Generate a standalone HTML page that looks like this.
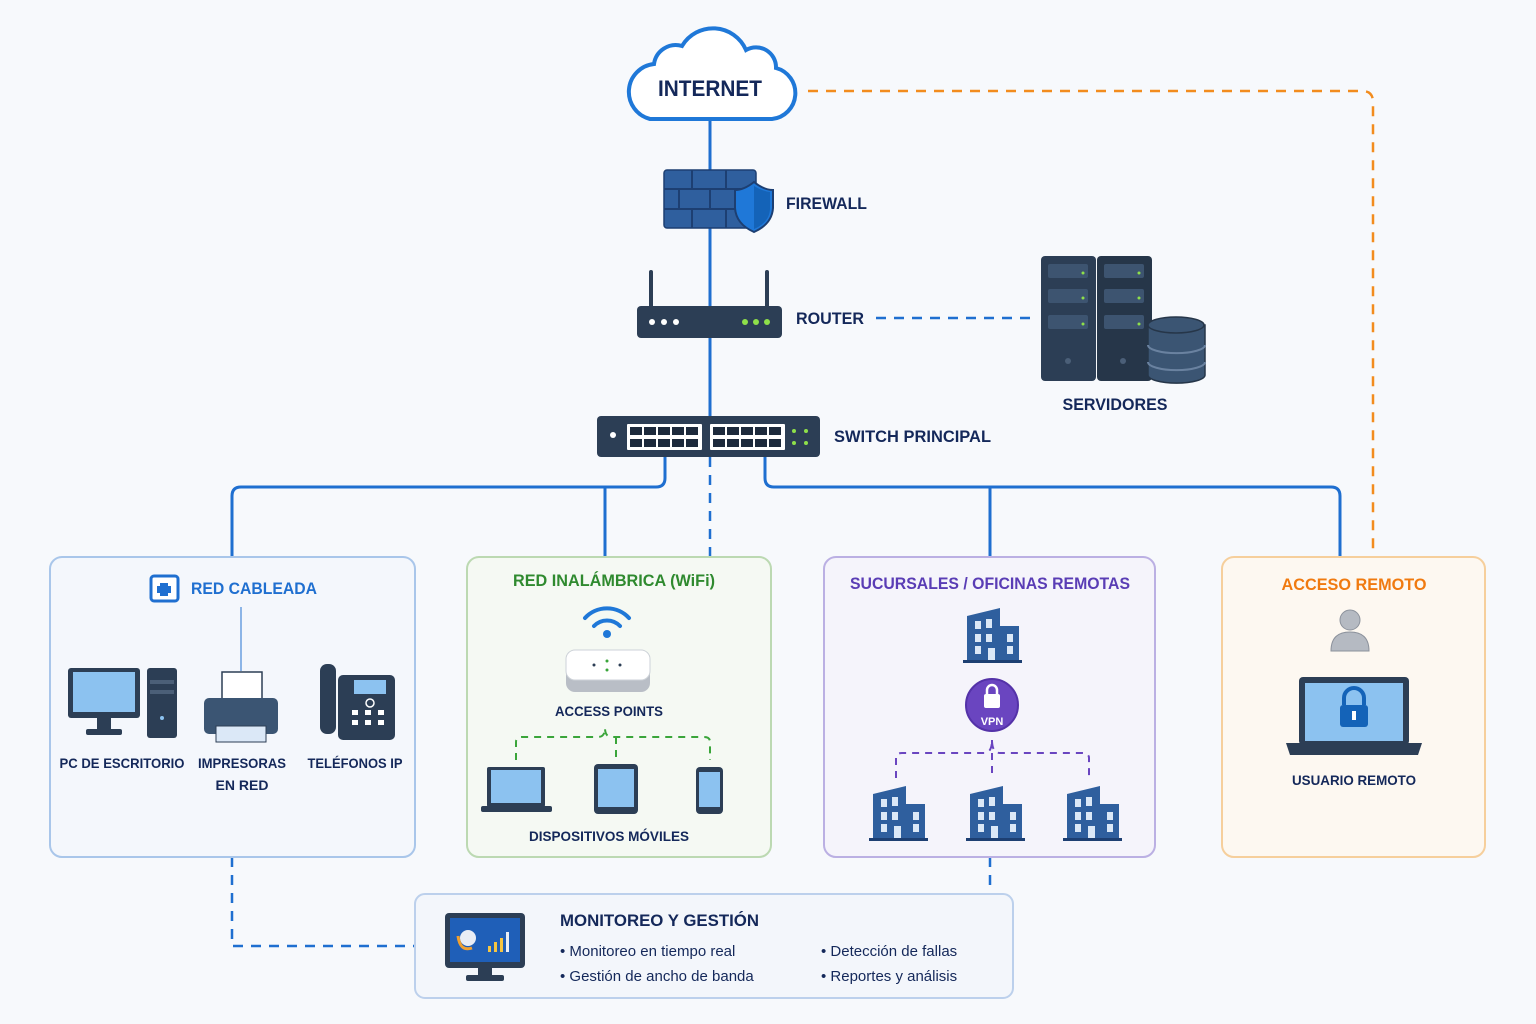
<!DOCTYPE html>
<html><head><meta charset="utf-8"><style>
html,body{margin:0;padding:0;background:#f7f9fc;}
svg{display:block;font-family:"Liberation Sans",sans-serif;}
.t{font-weight:bold;fill:#14285a;}
</style></head><body>
<svg width="1536" height="1024" viewBox="0 0 1536 1024" xmlns="http://www.w3.org/2000/svg">
<rect width="1536" height="1024" fill="#f7f9fc"/>

<g fill="none" stroke="#1f6fd0" stroke-width="3">
<line x1="710" y1="120" x2="710" y2="416"/>
<path d="M665,457 V478 Q665,487 656,487 H241 Q232,487 232,496 V557"/>
<path d="M605,487 V557"/>
<path d="M765,457 V478 Q765,487 774,487 H1331 Q1340,487 1340,496 V557"/>
<path d="M990,487 V557"/>
</g>
<g fill="none" stroke="#1f6fd0" stroke-width="2.5" stroke-dasharray="10,8">
<line x1="710" y1="457" x2="710" y2="557"/>
<line x1="876" y1="318" x2="1035" y2="318"/>
<path d="M232,857 V946 H415"/>
<line x1="990" y1="857" x2="990" y2="894"/>
</g>
<path d="M808,91 H1362 Q1373,91 1373,102 V557" fill="none" stroke="#f28c1e" stroke-width="2.5" stroke-dasharray="10,8"/>

<path d="M650,119 H772 A26,26 0 0 0 776,68 A20,20 0 0 0 746,50 A36,36 0 0 0 682,46 A22,22 0 0 0 654,64 A28,28 0 0 0 650,119 Z" fill="#fff" stroke="#1f78d8" stroke-width="4"/>
<text x="710" y="96" text-anchor="middle" class="t" font-size="22" textLength="104" lengthAdjust="spacingAndGlyphs">INTERNET</text>

<rect x="664" y="170" width="92" height="58" rx="3" fill="#2f5f9e" stroke="#1d3f72" stroke-width="1.5"/>
<g stroke="#1d3f72" stroke-width="2">
<line x1="664" y1="189" x2="756" y2="189"/><line x1="664" y1="209" x2="756" y2="209"/>
<line x1="692" y1="170" x2="692" y2="189"/><line x1="726" y1="170" x2="726" y2="189"/>
<line x1="679" y1="189" x2="679" y2="209"/><line x1="710" y1="189" x2="710" y2="209"/><line x1="740" y1="189" x2="740" y2="209"/>
<line x1="692" y1="209" x2="692" y2="228"/><line x1="726" y1="209" x2="726" y2="228"/>
</g>
<path d="M754,182 Q764,190 773,190 V208 Q772,224 754,232 Q736,224 735,208 V190 Q744,190 754,182 Z" fill="#1f78d8" stroke="#1d3f72" stroke-width="2"/>
<path d="M754,186 V229 Q770,222 770,208 V192 Q762,191 754,186Z" fill="#1463b8"/>
<text x="786" y="209" class="t" font-size="17" textLength="81" lengthAdjust="spacingAndGlyphs">FIREWALL</text>

<rect x="649" y="270" width="4" height="40" rx="2" fill="#2c3e55"/>
<rect x="765" y="270" width="4" height="40" rx="2" fill="#2c3e55"/>
<rect x="637" y="306" width="145" height="32" rx="4" fill="#2c3e55"/>
<g fill="#fff"><circle cx="652" cy="322" r="3"/><circle cx="664" cy="322" r="3"/><circle cx="676" cy="322" r="3"/></g>
<g fill="#8ee04a"><circle cx="745" cy="322" r="3"/><circle cx="756" cy="322" r="3"/><circle cx="767" cy="322" r="3"/></g>
<text x="796" y="324" class="t" font-size="17" textLength="68" lengthAdjust="spacingAndGlyphs">ROUTER</text>

<rect x="1041" y="256" width="55" height="125" rx="4" fill="#2c3e55"/>
<rect x="1097" y="256" width="55" height="125" rx="4" fill="#263649"/>
<g fill="#3d5470">
<rect x="1048" y="264" width="40" height="14" rx="2"/><rect x="1048" y="289" width="40" height="14" rx="2"/><rect x="1048" y="315" width="40" height="14" rx="2"/>
<rect x="1104" y="264" width="40" height="14" rx="2"/><rect x="1104" y="289" width="40" height="14" rx="2"/><rect x="1104" y="315" width="40" height="14" rx="2"/>
</g>
<g fill="#8ee04a"><circle cx="1083" cy="273" r="1.5"/><circle cx="1083" cy="298" r="1.5"/><circle cx="1083" cy="324" r="1.5"/><circle cx="1139" cy="273" r="1.5"/><circle cx="1139" cy="298" r="1.5"/><circle cx="1139" cy="324" r="1.5"/></g>
<circle cx="1068" cy="361" r="3" fill="#4b5f78"/><circle cx="1123" cy="361" r="3" fill="#4b5f78"/>
<path d="M1148,325 V375 A28,8 0 0 0 1205,375 V325 Z" fill="#3b5573" stroke="#263649" stroke-width="1.5"/>
<ellipse cx="1176" cy="325" rx="28" ry="8" fill="#3b5573" stroke="#263649" stroke-width="1.5"/>
<path d="M1148,345 A28,8 0 0 0 1205,345 M1148,362 A28,8 0 0 0 1205,362" fill="none" stroke="#6a82a0" stroke-width="2"/>
<text x="1115" y="410" text-anchor="middle" class="t" font-size="17" textLength="105" lengthAdjust="spacingAndGlyphs">SERVIDORES</text>

<rect x="597" y="416" width="223" height="41" rx="4" fill="#2c3e55"/>
<rect x="627" y="424" width="75" height="26" fill="#fff" rx="1"/>
<rect x="710" y="424" width="75" height="26" fill="#fff" rx="1"/>
<g fill="#1d2a3c">
<rect x="630" y="427" width="12" height="8"/><rect x="644" y="427" width="12" height="8"/><rect x="658" y="427" width="12" height="8"/><rect x="672" y="427" width="12" height="8"/><rect x="686" y="427" width="12" height="8"/>
<rect x="630" y="439" width="12" height="8"/><rect x="644" y="439" width="12" height="8"/><rect x="658" y="439" width="12" height="8"/><rect x="672" y="439" width="12" height="8"/><rect x="686" y="439" width="12" height="8"/>
<rect x="713" y="427" width="12" height="8"/><rect x="727" y="427" width="12" height="8"/><rect x="741" y="427" width="12" height="8"/><rect x="755" y="427" width="12" height="8"/><rect x="769" y="427" width="12" height="8"/>
<rect x="713" y="439" width="12" height="8"/><rect x="727" y="439" width="12" height="8"/><rect x="741" y="439" width="12" height="8"/><rect x="755" y="439" width="12" height="8"/><rect x="769" y="439" width="12" height="8"/>
</g>
<g fill="#8ee04a"><circle cx="794" cy="431" r="2"/><circle cx="806" cy="431" r="2"/><circle cx="794" cy="443" r="2"/><circle cx="806" cy="443" r="2"/></g>
<circle cx="613" cy="435" r="3" fill="#fff"/>
<text x="834" y="442" class="t" font-size="17" textLength="157" lengthAdjust="spacingAndGlyphs">SWITCH PRINCIPAL</text>

<rect x="50" y="557" width="365" height="300" rx="12" fill="#f4f7fc" stroke="#a9c6ea" stroke-width="2"/>
<rect x="467" y="557" width="304" height="300" rx="12" fill="#f5f9f3" stroke="#bcd9b2" stroke-width="2"/>
<rect x="824" y="557" width="331" height="300" rx="12" fill="#f5f4fb" stroke="#bbb0e3" stroke-width="2"/>
<rect x="1222" y="557" width="263" height="300" rx="12" fill="#fdf8f1" stroke="#f6cf9c" stroke-width="2"/>
<rect x="415" y="894" width="598" height="104" rx="10" fill="#f3f6fb" stroke="#bcd0ec" stroke-width="2"/>

<rect x="151" y="576" width="27" height="25" rx="3" fill="#fff" stroke="#1f6fd0" stroke-width="3"/>
<path d="M160,583 h8 v3 h3 v7 h-3 v3 h-8 v-3 h-3 v-7 h3 z" fill="#1f6fd0"/>
<text x="191" y="594" font-size="17" font-weight="bold" fill="#1f6fd0" textLength="126" lengthAdjust="spacingAndGlyphs">RED CABLEADA</text>
<line x1="241" y1="607" x2="241" y2="671" stroke="#6a9fe0" stroke-width="1.5"/>
<rect x="68" y="668" width="72" height="50" rx="3" fill="#2c3e55"/>
<rect x="73" y="672" width="62" height="40" fill="#8cc2f0"/>
<rect x="97" y="718" width="14" height="12" fill="#2c3e55"/><rect x="86" y="729" width="36" height="6" rx="2" fill="#2c3e55"/>
<rect x="147" y="668" width="30" height="70" rx="3" fill="#2c3e55"/>
<rect x="150" y="680" width="24" height="4" fill="#4b5f78"/><rect x="150" y="690" width="24" height="4" fill="#4b5f78"/>
<circle cx="162" cy="718" r="2" fill="#8cc2f0"/>
<rect x="222" y="672" width="40" height="32" fill="#fff" stroke="#2c3e55" stroke-width="1.5"/>
<rect x="204" y="698" width="74" height="36" rx="5" fill="#3b5573"/>
<rect x="216" y="726" width="50" height="16" fill="#dbe8f7" stroke="#2c3e55"/>
<text x="122" y="768" text-anchor="middle" class="t" font-size="14" textLength="125" lengthAdjust="spacingAndGlyphs">PC DE ESCRITORIO</text>
<text x="242" y="768" text-anchor="middle" class="t" font-size="14" textLength="88" lengthAdjust="spacingAndGlyphs">IMPRESORAS</text>
<text x="242" y="790" text-anchor="middle" class="t" font-size="14">EN RED</text>
<rect x="320" y="664" width="16" height="70" rx="7" fill="#2c3e55"/>
<rect x="338" y="675" width="57" height="65" rx="5" fill="#2c3e55"/>
<rect x="354" y="680" width="32" height="14" fill="#8cc2f0"/>
<g fill="#fff"><rect x="352" y="710" width="6" height="5"/><rect x="365" y="710" width="6" height="5"/><rect x="378" y="710" width="6" height="5"/><rect x="352" y="720" width="6" height="5"/><rect x="365" y="720" width="6" height="5"/><rect x="378" y="720" width="6" height="5"/></g>
<circle cx="370" cy="703" r="4" fill="none" stroke="#fff" stroke-width="1.5"/>
<text x="355" y="768" text-anchor="middle" class="t" font-size="14" textLength="95" lengthAdjust="spacingAndGlyphs">TELÉFONOS IP</text>

<text x="614" y="586" text-anchor="middle" font-size="17" font-weight="bold" fill="#2f8a2f" textLength="202" lengthAdjust="spacingAndGlyphs">RED INALÁMBRICA (WiFi)</text>
<g fill="none" stroke="#1f78d8" stroke-width="4" stroke-linecap="round">
<path d="M585,618 A30,30 0 0 1 629,618"/><path d="M594,626 A18,18 0 0 1 620,626"/>
</g>
<circle cx="607" cy="634" r="4" fill="#1f78d8"/>
<rect x="566" y="650" width="84" height="42" rx="9" fill="#b9bec6"/>
<rect x="566" y="650" width="84" height="30" rx="9" fill="#fff" stroke="#cdd2d8"/>
<circle cx="594" cy="665" r="1.5" fill="#2c3e55"/><circle cx="620" cy="665" r="1.5" fill="#2c3e55"/><circle cx="607" cy="661" r="1.5" fill="#3aa53a"/><circle cx="607" cy="670" r="1.5" fill="#3aa53a"/>
<text x="609" y="716" text-anchor="middle" class="t" font-size="14" textLength="108" lengthAdjust="spacingAndGlyphs">ACCESS POINTS</text>
<path d="M516,760 V742 Q516,737 522,737 H598 Q605,737 605,728 Q605,737 612,737 H704 Q710,737 710,742 V760 M616,737 V760" fill="none" stroke="#3aa53a" stroke-width="2" stroke-dasharray="7,6"/>
<rect x="487" y="767" width="58" height="40" rx="2" fill="#2c3e55"/><rect x="491" y="770" width="50" height="33" fill="#8cc2f0"/>
<rect x="481" y="806" width="71" height="6" rx="2" fill="#2c3e55"/>
<rect x="594" y="764" width="44" height="50" rx="4" fill="#2c3e55"/><rect x="598" y="769" width="36" height="38" fill="#8cc2f0"/>
<rect x="696" y="767" width="27" height="47" rx="4" fill="#2c3e55"/><rect x="699" y="772" width="21" height="35" fill="#8cc2f0"/>
<text x="609" y="841" text-anchor="middle" class="t" font-size="14" textLength="160" lengthAdjust="spacingAndGlyphs">DISPOSITIVOS MÓVILES</text>

<text x="990" y="589" text-anchor="middle" font-size="17" font-weight="bold" fill="#5a3db5" textLength="280" lengthAdjust="spacingAndGlyphs">SUCURSALES / OFICINAS REMOTAS</text>
<g id="bld">
<path d="M967,616 L1000,608 V626 H1019 V661 H967 Z" fill="#2f5f9e"/>
<rect x="963" y="660" width="59" height="3" fill="#1d3f72"/>
<g fill="#dbe8f7"><rect x="975" y="621" width="6" height="8"/><rect x="986" y="619" width="6" height="9"/><rect x="975" y="634" width="6" height="8"/><rect x="986" y="634" width="6" height="8"/><rect x="975" y="646" width="6" height="8"/><rect x="1007" y="634" width="6" height="8"/><rect x="1007" y="646" width="6" height="8"/><rect x="988" y="648" width="7" height="12"/></g>
</g>
<circle cx="992" cy="705" r="26" fill="#6a45c0" stroke="#5432a8" stroke-width="2"/>
<rect x="984" y="694" width="16" height="14" rx="2" fill="#fff"/>
<path d="M987,694 V690 A5,5 0 0 1 997,690 V694" fill="none" stroke="#fff" stroke-width="2.5"/>
<text x="992" y="725" text-anchor="middle" font-size="11" font-weight="bold" fill="#fff">VPN</text>
<path d="M896,778 V758 Q896,753 902,753 H984 Q992,753 992,740 Q992,753 1000,753 H1082 Q1089,753 1089,758 V778 M992,740 V778" fill="none" stroke="#6a45c0" stroke-width="2" stroke-dasharray="7,6"/>
<use href="#bld" transform="translate(-94,178)"/>
<use href="#bld" transform="translate(3,178)"/>
<use href="#bld" transform="translate(100,178)"/>

<text x="1354" y="590" text-anchor="middle" font-size="17" font-weight="bold" fill="#f07a10" textLength="145" lengthAdjust="spacingAndGlyphs">ACCESO REMOTO</text>
<circle cx="1350" cy="620" r="10" fill="#b5bac2" stroke="#8c929c"/>
<path d="M1331,651 Q1331,632 1350,632 Q1369,632 1369,651 Z" fill="#b5bac2" stroke="#8c929c"/>
<rect x="1299" y="677" width="110" height="68" rx="4" fill="#2c3e55"/>
<rect x="1305" y="683" width="98" height="58" fill="#8cc2f0"/>
<path d="M1286,743 H1422 L1418,755 H1290 Z" fill="#2c3e55"/>
<rect x="1340" y="705" width="28" height="22" rx="3" fill="#1463b8"/>
<path d="M1344,705 V698 A10,10 0 0 1 1364,698 V705" fill="none" stroke="#1463b8" stroke-width="4"/>
<rect x="1352" y="711" width="4" height="9" fill="#fff"/>
<text x="1354" y="785" text-anchor="middle" class="t" font-size="14" textLength="124" lengthAdjust="spacingAndGlyphs">USUARIO REMOTO</text>

<rect x="445" y="913" width="80" height="55" rx="4" fill="#2c3e55"/>
<rect x="450" y="918" width="70" height="44" fill="#1f5fb8"/>
<rect x="478" y="968" width="14" height="8" fill="#2c3e55"/><rect x="466" y="975" width="38" height="6" rx="2" fill="#2c3e55"/>
<circle cx="468" cy="938" r="8" fill="#e8edf5"/><path d="M458,936 Q460,952 472,948" fill="none" stroke="#f0a030" stroke-width="3"/>
<g fill="#f5c542"><rect x="488" y="946" width="3" height="6"/><rect x="494" y="942" width="3" height="10"/><rect x="500" y="938" width="3" height="14"/><rect x="506" y="932" width="3" height="20" fill="#e8edf5"/></g>
<text x="560" y="926" class="t" font-size="17" textLength="199" lengthAdjust="spacingAndGlyphs">MONITOREO Y GESTIÓN</text>
<g font-size="15" fill="#14285a">
<text x="560" y="956">•  Monitoreo en tiempo real</text>
<text x="560" y="981">•  Gestión de ancho de banda</text>
<text x="821" y="956">•  Detección de fallas</text>
<text x="821" y="981">•  Reportes y análisis</text>
</g>
</svg>
</body></html>
